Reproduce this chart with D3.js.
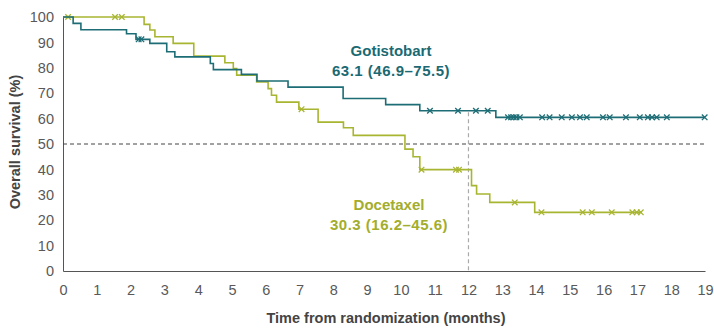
<!DOCTYPE html>
<html><head><meta charset="utf-8">
<script src="https://cdn.jsdelivr.net/npm/d3@7"></script>
<style>body{margin:0;background:#fff}svg{display:block}</style>
</head><body>
<svg id="c" width="714" height="332"></svg>
<script>
// ---- data ----
const xTicks = [0,1,2,3,4,5,6,7,8,9,10,11,12,13,14,15,16,17,18,19];
const yTicks = [0,10,20,30,40,50,60,70,80,90,100];

const gotisTimes = [0, 0.30, 0.53, 1.88, 2.16, 2.57, 3.07, 3.31, 4.36, 4.45, 5.28, 5.74, 6.66, 8.29, 9.55, 10.56, 12.81];
const gotisSurv  = [100, 97.5, 95.0, 93.4, 91.2, 89.6, 86.3, 84.3, 81.7, 79.3, 77.4, 74.8, 72.4, 67.9, 65.5, 63.1, 60.5];
const gotisEnd = 19.0;
const gotisCensor = [2.24, 2.32, 10.86, 11.69, 12.22, 12.57, 13.17, 13.26, 13.34, 13.42, 13.52, 14.18, 14.40, 14.76, 15.06, 15.30, 15.50, 15.98, 16.18, 16.66, 17.07, 17.31, 17.43, 17.57, 17.87, 18.99];

const doceTimes = [0, 2.40, 2.57, 2.72, 3.26, 3.87, 4.79, 5.04, 5.14, 5.73, 6.07, 6.17, 6.32, 6.98, 7.55, 8.30, 8.59, 10.12, 10.36, 10.56, 12.09, 12.24, 12.63, 13.96];
const doceSurv  = [100, 97.1, 94.9, 92.2, 89.6, 84.6, 82.0, 79.7, 77.1, 74.4, 71.8, 69.2, 66.5, 63.7, 58.6, 56.4, 53.4, 48.0, 45.0, 39.9, 33.6, 30.3, 27.0, 23.1];
const doceEnd = 17.13;
const doceCensor = [0.15, 1.54, 1.74, 7.06, 10.61, 11.63, 11.72, 13.37, 14.16, 15.38, 15.65, 16.24, 16.85, 16.98, 17.10];

const gotisLabel = ["Gotistobart", "63.1 (46.9\u201375.5)"];
const doceLabel  = ["Docetaxel", "30.3 (16.2\u201345.6)"];
const milestone = 12;
const refLine = 50;

// ---- drawing ----
const teal = "#1d6d76", olive = "#a8b530";
const tealText = "#1b6a73", oliveText = "#a3ad2c";
const font = "'Liberation Sans', Arial, sans-serif";
const svg = d3.select("#c");
const x = d3.scaleLinear().domain([0, 19]).range([63, 705]);
const y = d3.scaleLinear().domain([0, 100]).range([271, 17]);

const xa = svg.append("g").attr("transform", `translate(0,${y(0)})`)
  .call(d3.axisBottom(x).tickValues(xTicks).tickSize(0).tickSizeOuter(0).tickPadding(14).tickFormat(d3.format("d")));
const ya = svg.append("g").attr("transform", `translate(${x(0)},0)`)
  .call(d3.axisLeft(y).tickValues(yTicks).tickSize(0).tickSizeOuter(0).tickPadding(9).tickFormat(d3.format("d")));
[xa, ya].forEach(a => {
  a.select(".domain").attr("stroke", "#555").attr("stroke-width", 1);
  a.selectAll("text").attr("fill", "#595959").attr("font-size", 14.5).attr("font-family", font);
});

// reference lines
svg.append("line").attr("x1", x(0)).attr("x2", x(19)).attr("y1", y(refLine)).attr("y2", y(refLine))
  .attr("stroke", "#444").attr("stroke-width", 1).attr("stroke-dasharray", "4,3");
svg.append("line").attr("x1", x(milestone)).attr("x2", x(milestone)).attr("y1", y(62.5)).attr("y2", y(0))
  .attr("stroke", "#aaa").attr("stroke-width", 1.2).attr("stroke-dasharray", "4,3");

function stepVal(times, surv, t) {
  let v = surv[0];
  for (let i = 0; i < times.length; i++) if (times[i] <= t) v = surv[i];
  return v;
}
function drawCurve(times, surv, end, censor, color) {
  const pts = times.map((t, i) => [t, surv[i]]);
  pts.push([end, surv[surv.length - 1]]);
  const line = d3.line().x(d => x(d[0])).y(d => y(d[1])).curve(d3.curveStepAfter);
  svg.append("path").attr("d", line(pts)).attr("fill", "none").attr("stroke", color).attr("stroke-width", 1.6);
  const sym = d3.symbol().type(d3.symbolTimes).size(22);
  svg.append("g").selectAll("path").data(censor).join("path")
    .attr("transform", t => `translate(${x(t)},${y(stepVal(times, surv, t))})`)
    .attr("d", sym).attr("fill", "none").attr("stroke", color).attr("stroke-width", 1.3);
}
drawCurve(doceTimes, doceSurv, doceEnd, doceCensor, olive);
drawCurve(gotisTimes, gotisSurv, gotisEnd, gotisCensor, teal);

function label(lines, cx, y0, color) {
  lines.forEach((s, i) => svg.append("text").attr("x", cx).attr("y", y0 + i * 20)
    .attr("text-anchor", "middle").attr("font-family", font).attr("font-weight", "bold")
    .attr("font-size", 15).attr("letter-spacing", i === 1 ? 0.5 : 0).attr("fill", color).text(s));
}
label(gotisLabel, 391, 56, tealText);
label(doceLabel, 389, 210, oliveText);

svg.append("text").attr("x", 386).attr("y", 323).attr("text-anchor", "middle")
  .attr("font-family", font).attr("font-weight", "bold").attr("font-size", 14.5).attr("fill", "#444")
  .text("Time from randomization (months)");
svg.append("text").attr("transform", "translate(20,142) rotate(-90)").attr("text-anchor", "middle")
  .attr("font-family", font).attr("font-weight", "bold").attr("font-size", 14.5).attr("fill", "#444")
  .text("Overall survival (%)");
</script>
</body></html>
